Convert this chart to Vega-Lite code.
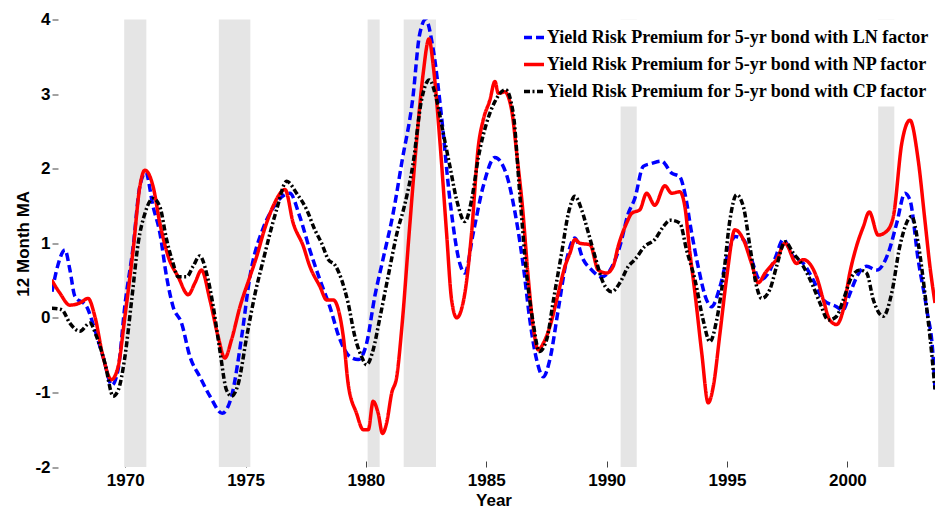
{
  "$schema": "https://vega.github.io/schema/vega-lite/v6.json",
  "width": 883,
  "height": 447.5,
  "autosize": {"type": "none"},
  "padding": {"left": 52, "top": 19.5, "right": 0, "bottom": 42},
  "background": "white",
  "config": {
    "view": {"stroke": null},
    "axis": {
      "domain": false,
      "grid": false,
      "tickColor": "#444444",
      "tickWidth": 1,
      "tickSize": -6,
      "labelFont": "Liberation Sans",
      "labelFontWeight": "bold",
      "labelFontSize": 17,
      "labelColor": "black",
      "titleFont": "Liberation Sans",
      "titleFontWeight": "bold",
      "titleFontSize": 17,
      "titleColor": "black"
    },
    "legend": {
      "orient": "top-right",
      "offset": 0,
      "title": null,
      "fillColor": "white",
      "padding": 6,
      "labelFont": "Liberation Serif",
      "labelFontWeight": "bold",
      "labelFontSize": 18,
      "labelColor": "black",
      "labelLimit": 600,
      "labelOffset": 1,
      "symbolType": "stroke",
      "symbolSize": 400,
      "symbolStrokeWidth": 3.5,
      "rowPadding": 6
    }
  },
  "datasets": {
    "recessions": [
      {"start": 1969.96, "end": 1970.88},
      {"start": 1973.89, "end": 1975.2},
      {"start": 1980.07, "end": 1980.57},
      {"start": 1981.57, "end": 1982.91},
      {"start": 1990.58, "end": 1991.25},
      {"start": 2001.28, "end": 2001.95}
    ],
    "premium": [
      {"series": "LN", "year": 1966.96, "value": 0.35},
      {"series": "LN", "year": 1967.2, "value": 0.7},
      {"series": "LN", "year": 1967.5, "value": 0.91},
      {"series": "LN", "year": 1967.7, "value": 0.65},
      {"series": "LN", "year": 1967.91, "value": 0.29},
      {"series": "LN", "year": 1968.4, "value": 0.15},
      {"series": "LN", "year": 1968.74, "value": -0.16},
      {"series": "LN", "year": 1969.08, "value": -0.52},
      {"series": "LN", "year": 1969.45, "value": -0.9},
      {"series": "LN", "year": 1969.7, "value": -0.7},
      {"series": "LN", "year": 1970.0, "value": 0.2},
      {"series": "LN", "year": 1970.33, "value": 0.95},
      {"series": "LN", "year": 1970.6, "value": 1.75},
      {"series": "LN", "year": 1970.85, "value": 1.95},
      {"series": "LN", "year": 1971.16, "value": 1.49},
      {"series": "LN", "year": 1971.44, "value": 1.14},
      {"series": "LN", "year": 1971.72, "value": 0.55},
      {"series": "LN", "year": 1971.99, "value": 0.15},
      {"series": "LN", "year": 1972.34, "value": -0.07},
      {"series": "LN", "year": 1972.69, "value": -0.52},
      {"series": "LN", "year": 1973.1, "value": -0.79},
      {"series": "LN", "year": 1973.52, "value": -1.05},
      {"series": "LN", "year": 1974.03, "value": -1.28},
      {"series": "LN", "year": 1974.42, "value": -1.05},
      {"series": "LN", "year": 1974.84, "value": -0.25},
      {"series": "LN", "year": 1975.18, "value": 0.55},
      {"series": "LN", "year": 1975.73, "value": 1.2},
      {"series": "LN", "year": 1976.1, "value": 1.45},
      {"series": "LN", "year": 1976.5, "value": 1.62},
      {"series": "LN", "year": 1976.84, "value": 1.67},
      {"series": "LN", "year": 1977.25, "value": 1.36},
      {"series": "LN", "year": 1977.67, "value": 0.91},
      {"series": "LN", "year": 1978.09, "value": 0.51},
      {"series": "LN", "year": 1978.5, "value": 0.15},
      {"series": "LN", "year": 1978.92, "value": -0.29},
      {"series": "LN", "year": 1979.33, "value": -0.52},
      {"series": "LN", "year": 1979.68, "value": -0.56},
      {"series": "LN", "year": 1980.03, "value": -0.34},
      {"series": "LN", "year": 1980.37, "value": 0.29},
      {"series": "LN", "year": 1980.72, "value": 0.8},
      {"series": "LN", "year": 1981.13, "value": 1.4},
      {"series": "LN", "year": 1981.5, "value": 2.1},
      {"series": "LN", "year": 1981.95, "value": 2.95},
      {"series": "LN", "year": 1982.22, "value": 3.78},
      {"series": "LN", "year": 1982.48, "value": 4.0},
      {"series": "LN", "year": 1982.8, "value": 3.59},
      {"series": "LN", "year": 1983.14, "value": 2.7},
      {"series": "LN", "year": 1983.49, "value": 1.58},
      {"series": "LN", "year": 1983.9, "value": 0.73},
      {"series": "LN", "year": 1984.11, "value": 0.6},
      {"series": "LN", "year": 1984.46, "value": 1.14},
      {"series": "LN", "year": 1984.87, "value": 1.76},
      {"series": "LN", "year": 1985.36, "value": 2.15},
      {"series": "LN", "year": 1985.84, "value": 1.92},
      {"series": "LN", "year": 1986.2, "value": 1.4},
      {"series": "LN", "year": 1986.54, "value": 0.69},
      {"series": "LN", "year": 1986.81, "value": -0.03},
      {"series": "LN", "year": 1987.09, "value": -0.56},
      {"series": "LN", "year": 1987.37, "value": -0.79},
      {"series": "LN", "year": 1987.64, "value": -0.56},
      {"series": "LN", "year": 1987.99, "value": 0.11},
      {"series": "LN", "year": 1988.34, "value": 0.78},
      {"series": "LN", "year": 1988.68, "value": 1.07},
      {"series": "LN", "year": 1989.03, "value": 0.78},
      {"series": "LN", "year": 1989.38, "value": 0.64},
      {"series": "LN", "year": 1989.79, "value": 0.55},
      {"series": "LN", "year": 1990.14, "value": 0.64},
      {"series": "LN", "year": 1990.55, "value": 0.96},
      {"series": "LN", "year": 1990.9, "value": 1.4},
      {"series": "LN", "year": 1991.17, "value": 1.6},
      {"series": "LN", "year": 1991.52, "value": 2.03},
      {"series": "LN", "year": 1991.87, "value": 2.07},
      {"series": "LN", "year": 1992.28, "value": 2.1},
      {"series": "LN", "year": 1992.7, "value": 1.94},
      {"series": "LN", "year": 1993.04, "value": 1.89},
      {"series": "LN", "year": 1993.25, "value": 1.67},
      {"series": "LN", "year": 1993.53, "value": 1.14},
      {"series": "LN", "year": 1993.8, "value": 0.69},
      {"series": "LN", "year": 1994.15, "value": 0.24},
      {"series": "LN", "year": 1994.36, "value": 0.15},
      {"series": "LN", "year": 1994.71, "value": 0.42},
      {"series": "LN", "year": 1995.05, "value": 0.87},
      {"series": "LN", "year": 1995.33, "value": 1.09},
      {"series": "LN", "year": 1995.68, "value": 1.05},
      {"series": "LN", "year": 1996.02, "value": 0.78},
      {"series": "LN", "year": 1996.37, "value": 0.51},
      {"series": "LN", "year": 1996.72, "value": 0.6},
      {"series": "LN", "year": 1997.0, "value": 0.8},
      {"series": "LN", "year": 1997.34, "value": 1.05},
      {"series": "LN", "year": 1997.75, "value": 0.82},
      {"series": "LN", "year": 1998.17, "value": 0.73},
      {"series": "LN", "year": 1998.58, "value": 0.51},
      {"series": "LN", "year": 1999.0, "value": 0.24},
      {"series": "LN", "year": 1999.55, "value": 0.15},
      {"series": "LN", "year": 1999.8, "value": 0.1},
      {"series": "LN", "year": 2000.11, "value": 0.33},
      {"series": "LN", "year": 2000.39, "value": 0.55},
      {"series": "LN", "year": 2000.8, "value": 0.69},
      {"series": "LN", "year": 2001.22, "value": 0.64},
      {"series": "LN", "year": 2001.7, "value": 0.87},
      {"series": "LN", "year": 2002.05, "value": 1.27},
      {"series": "LN", "year": 2002.39, "value": 1.67},
      {"series": "LN", "year": 2002.6, "value": 1.58},
      {"series": "LN", "year": 2002.94, "value": 0.78},
      {"series": "LN", "year": 2003.3, "value": 0.11},
      {"series": "LN", "year": 2003.57, "value": -0.56},
      {"series": "LN", "year": 2003.64, "value": -0.96},

      {"series": "NP", "year": 1966.94, "value": 0.51},
      {"series": "NP", "year": 1967.29, "value": 0.33},
      {"series": "NP", "year": 1967.7, "value": 0.17},
      {"series": "NP", "year": 1968.12, "value": 0.2},
      {"series": "NP", "year": 1968.46, "value": 0.26},
      {"series": "NP", "year": 1968.74, "value": 0.02},
      {"series": "NP", "year": 1969.08, "value": -0.52},
      {"series": "NP", "year": 1969.43, "value": -0.83},
      {"series": "NP", "year": 1969.71, "value": -0.65},
      {"series": "NP", "year": 1969.99, "value": 0.02},
      {"series": "NP", "year": 1970.33, "value": 0.91},
      {"series": "NP", "year": 1970.61, "value": 1.76},
      {"series": "NP", "year": 1970.82, "value": 1.98},
      {"series": "NP", "year": 1971.16, "value": 1.76},
      {"series": "NP", "year": 1971.44, "value": 1.27},
      {"series": "NP", "year": 1971.79, "value": 0.82},
      {"series": "NP", "year": 1972.2, "value": 0.55},
      {"series": "NP", "year": 1972.62, "value": 0.31},
      {"series": "NP", "year": 1972.9, "value": 0.47},
      {"series": "NP", "year": 1973.17, "value": 0.64},
      {"series": "NP", "year": 1973.52, "value": 0.24},
      {"series": "NP", "year": 1973.86, "value": -0.25},
      {"series": "NP", "year": 1974.14, "value": -0.54},
      {"series": "NP", "year": 1974.42, "value": -0.29},
      {"series": "NP", "year": 1974.77, "value": 0.15},
      {"series": "NP", "year": 1975.18, "value": 0.55},
      {"series": "NP", "year": 1975.46, "value": 0.82},
      {"series": "NP", "year": 1975.8, "value": 1.2},
      {"series": "NP", "year": 1976.15, "value": 1.5},
      {"series": "NP", "year": 1976.64, "value": 1.72},
      {"series": "NP", "year": 1976.98, "value": 1.27},
      {"series": "NP", "year": 1977.4, "value": 0.96},
      {"series": "NP", "year": 1977.67, "value": 0.69},
      {"series": "NP", "year": 1978.09, "value": 0.42},
      {"series": "NP", "year": 1978.37, "value": 0.24},
      {"series": "NP", "year": 1978.64, "value": 0.24},
      {"series": "NP", "year": 1979.06, "value": -0.25},
      {"series": "NP", "year": 1979.26, "value": -0.88},
      {"series": "NP", "year": 1979.61, "value": -1.28},
      {"series": "NP", "year": 1979.89, "value": -1.5},
      {"series": "NP", "year": 1980.1, "value": -1.5},
      {"series": "NP", "year": 1980.3, "value": -1.12},
      {"series": "NP", "year": 1980.51, "value": -1.28},
      {"series": "NP", "year": 1980.69, "value": -1.55},
      {"series": "NP", "year": 1980.86, "value": -1.41},
      {"series": "NP", "year": 1981.07, "value": -1.01},
      {"series": "NP", "year": 1981.28, "value": -0.79},
      {"series": "NP", "year": 1981.5, "value": -0.1},
      {"series": "NP", "year": 1981.8, "value": 1.15},
      {"series": "NP", "year": 1982.11, "value": 2.39},
      {"series": "NP", "year": 1982.38, "value": 3.28},
      {"series": "NP", "year": 1982.62, "value": 3.74},
      {"series": "NP", "year": 1982.8, "value": 3.37},
      {"series": "NP", "year": 1983.08, "value": 2.34},
      {"series": "NP", "year": 1983.35, "value": 1.14},
      {"series": "NP", "year": 1983.56, "value": 0.24},
      {"series": "NP", "year": 1983.77, "value": 0.0},
      {"series": "NP", "year": 1984.11, "value": 0.33},
      {"series": "NP", "year": 1984.39, "value": 1.14},
      {"series": "NP", "year": 1984.67, "value": 2.3},
      {"series": "NP", "year": 1984.87, "value": 2.65},
      {"series": "NP", "year": 1985.15, "value": 2.92},
      {"series": "NP", "year": 1985.36, "value": 3.17},
      {"series": "NP", "year": 1985.5, "value": 3.01},
      {"series": "NP", "year": 1985.77, "value": 3.03},
      {"series": "NP", "year": 1986.05, "value": 2.79},
      {"series": "NP", "year": 1986.3, "value": 2.1},
      {"series": "NP", "year": 1986.5, "value": 1.5},
      {"series": "NP", "year": 1986.74, "value": 0.55},
      {"series": "NP", "year": 1986.95, "value": -0.12},
      {"series": "NP", "year": 1987.16, "value": -0.43},
      {"series": "NP", "year": 1987.37, "value": -0.34},
      {"series": "NP", "year": 1987.64, "value": -0.12},
      {"series": "NP", "year": 1987.99, "value": 0.33},
      {"series": "NP", "year": 1988.27, "value": 0.69},
      {"series": "NP", "year": 1988.48, "value": 0.87},
      {"series": "NP", "year": 1988.68, "value": 1.05},
      {"series": "NP", "year": 1988.89, "value": 1.0},
      {"series": "NP", "year": 1989.31, "value": 0.98},
      {"series": "NP", "year": 1989.65, "value": 0.64},
      {"series": "NP", "year": 1990.0, "value": 0.6},
      {"series": "NP", "year": 1990.27, "value": 0.69},
      {"series": "NP", "year": 1990.48, "value": 0.96},
      {"series": "NP", "year": 1990.83, "value": 1.27},
      {"series": "NP", "year": 1991.04, "value": 1.4},
      {"series": "NP", "year": 1991.38, "value": 1.45},
      {"series": "NP", "year": 1991.66, "value": 1.67},
      {"series": "NP", "year": 1992.0, "value": 1.51},
      {"series": "NP", "year": 1992.42, "value": 1.77},
      {"series": "NP", "year": 1992.7, "value": 1.67},
      {"series": "NP", "year": 1993.04, "value": 1.69},
      {"series": "NP", "year": 1993.25, "value": 1.49},
      {"series": "NP", "year": 1993.46, "value": 0.87},
      {"series": "NP", "year": 1993.67, "value": 0.33},
      {"series": "NP", "year": 1993.95, "value": -0.47},
      {"series": "NP", "year": 1994.22, "value": -1.14},
      {"series": "NP", "year": 1994.43, "value": -0.92},
      {"series": "NP", "year": 1994.71, "value": -0.2},
      {"series": "NP", "year": 1994.99, "value": 0.55},
      {"series": "NP", "year": 1995.33, "value": 1.18},
      {"series": "NP", "year": 1995.68, "value": 1.05},
      {"series": "NP", "year": 1996.02, "value": 0.73},
      {"series": "NP", "year": 1996.3, "value": 0.47},
      {"series": "NP", "year": 1996.58, "value": 0.6},
      {"series": "NP", "year": 1996.86, "value": 0.71},
      {"series": "NP", "year": 1997.06, "value": 0.78},
      {"series": "NP", "year": 1997.41, "value": 1.0},
      {"series": "NP", "year": 1997.89, "value": 0.73},
      {"series": "NP", "year": 1998.17, "value": 0.78},
      {"series": "NP", "year": 1998.72, "value": 0.55},
      {"series": "NP", "year": 1999.0, "value": 0.24},
      {"series": "NP", "year": 1999.27, "value": -0.03},
      {"series": "NP", "year": 1999.55, "value": -0.09},
      {"series": "NP", "year": 1999.83, "value": 0.11},
      {"series": "NP", "year": 2000.1, "value": 0.6},
      {"series": "NP", "year": 2000.38, "value": 0.96},
      {"series": "NP", "year": 2000.66, "value": 1.22},
      {"series": "NP", "year": 2000.91, "value": 1.42},
      {"series": "NP", "year": 2001.28, "value": 1.11},
      {"series": "NP", "year": 2001.63, "value": 1.16},
      {"series": "NP", "year": 2001.91, "value": 1.36},
      {"series": "NP", "year": 2002.26, "value": 2.34},
      {"series": "NP", "year": 2002.6, "value": 2.65},
      {"series": "NP", "year": 2002.94, "value": 2.12},
      {"series": "NP", "year": 2003.22, "value": 1.31},
      {"series": "NP", "year": 2003.43, "value": 0.69},
      {"series": "NP", "year": 2003.64, "value": 0.2},

      {"series": "CP", "year": 1966.94, "value": 0.13},
      {"series": "CP", "year": 1967.36, "value": 0.11},
      {"series": "CP", "year": 1967.7, "value": -0.07},
      {"series": "CP", "year": 1968.12, "value": -0.18},
      {"series": "CP", "year": 1968.53, "value": -0.07},
      {"series": "CP", "year": 1968.81, "value": -0.25},
      {"series": "CP", "year": 1969.16, "value": -0.61},
      {"series": "CP", "year": 1969.5, "value": -1.05},
      {"series": "CP", "year": 1969.71, "value": -0.97},
      {"series": "CP", "year": 1969.99, "value": -0.52},
      {"series": "CP", "year": 1970.27, "value": 0.24},
      {"series": "CP", "year": 1970.54, "value": 1.0},
      {"series": "CP", "year": 1970.82, "value": 1.4},
      {"series": "CP", "year": 1971.16, "value": 1.6},
      {"series": "CP", "year": 1971.44, "value": 1.49},
      {"series": "CP", "year": 1971.72, "value": 1.05},
      {"series": "CP", "year": 1971.99, "value": 0.73},
      {"series": "CP", "year": 1972.2, "value": 0.55},
      {"series": "CP", "year": 1972.55, "value": 0.55},
      {"series": "CP", "year": 1972.82, "value": 0.69},
      {"series": "CP", "year": 1973.1, "value": 0.83},
      {"series": "CP", "year": 1973.38, "value": 0.6},
      {"series": "CP", "year": 1973.66, "value": 0.15},
      {"series": "CP", "year": 1973.93, "value": -0.43},
      {"series": "CP", "year": 1974.21, "value": -0.97},
      {"series": "CP", "year": 1974.42, "value": -1.05},
      {"series": "CP", "year": 1974.7, "value": -0.88},
      {"series": "CP", "year": 1975.05, "value": -0.25},
      {"series": "CP", "year": 1975.4, "value": 0.33},
      {"series": "CP", "year": 1975.74, "value": 0.78},
      {"series": "CP", "year": 1976.29, "value": 1.45},
      {"series": "CP", "year": 1976.71, "value": 1.83},
      {"series": "CP", "year": 1977.12, "value": 1.67},
      {"series": "CP", "year": 1977.54, "value": 1.45},
      {"series": "CP", "year": 1977.88, "value": 1.18},
      {"series": "CP", "year": 1978.16, "value": 1.0},
      {"series": "CP", "year": 1978.44, "value": 0.78},
      {"series": "CP", "year": 1978.71, "value": 0.71},
      {"series": "CP", "year": 1978.99, "value": 0.51},
      {"series": "CP", "year": 1979.26, "value": 0.2},
      {"series": "CP", "year": 1979.54, "value": -0.25},
      {"series": "CP", "year": 1979.82, "value": -0.52},
      {"series": "CP", "year": 1980.03, "value": -0.63},
      {"series": "CP", "year": 1980.3, "value": -0.43},
      {"series": "CP", "year": 1980.58, "value": 0.0},
      {"series": "CP", "year": 1980.95, "value": 0.6},
      {"series": "CP", "year": 1981.3, "value": 1.15},
      {"series": "CP", "year": 1981.6, "value": 1.5},
      {"series": "CP", "year": 1981.95, "value": 2.05},
      {"series": "CP", "year": 1982.31, "value": 2.92},
      {"series": "CP", "year": 1982.63, "value": 3.19},
      {"series": "CP", "year": 1982.94, "value": 2.92},
      {"series": "CP", "year": 1983.21, "value": 2.48},
      {"series": "CP", "year": 1983.49, "value": 2.03},
      {"series": "CP", "year": 1983.77, "value": 1.58},
      {"series": "CP", "year": 1984.11, "value": 1.29},
      {"series": "CP", "year": 1984.39, "value": 1.58},
      {"series": "CP", "year": 1984.67, "value": 2.15},
      {"series": "CP", "year": 1985.01, "value": 2.61},
      {"series": "CP", "year": 1985.36, "value": 2.9},
      {"series": "CP", "year": 1985.8, "value": 3.06},
      {"series": "CP", "year": 1986.12, "value": 2.74},
      {"series": "CP", "year": 1986.39, "value": 1.67},
      {"series": "CP", "year": 1986.67, "value": 0.6},
      {"series": "CP", "year": 1986.95, "value": -0.07},
      {"series": "CP", "year": 1987.2, "value": -0.45},
      {"series": "CP", "year": 1987.51, "value": -0.29},
      {"series": "CP", "year": 1987.79, "value": 0.24},
      {"series": "CP", "year": 1988.13, "value": 0.87},
      {"series": "CP", "year": 1988.41, "value": 1.4},
      {"series": "CP", "year": 1988.68, "value": 1.63},
      {"series": "CP", "year": 1988.96, "value": 1.45},
      {"series": "CP", "year": 1989.24, "value": 1.14},
      {"series": "CP", "year": 1989.52, "value": 0.82},
      {"series": "CP", "year": 1989.86, "value": 0.47},
      {"series": "CP", "year": 1990.21, "value": 0.35},
      {"series": "CP", "year": 1990.55, "value": 0.47},
      {"series": "CP", "year": 1990.9, "value": 0.69},
      {"series": "CP", "year": 1991.17, "value": 0.78},
      {"series": "CP", "year": 1991.59, "value": 0.96},
      {"series": "CP", "year": 1992.0, "value": 1.05},
      {"series": "CP", "year": 1992.35, "value": 1.22},
      {"series": "CP", "year": 1992.63, "value": 1.31},
      {"series": "CP", "year": 1993.04, "value": 1.27},
      {"series": "CP", "year": 1993.32, "value": 0.91},
      {"series": "CP", "year": 1993.67, "value": 0.51},
      {"series": "CP", "year": 1994.01, "value": -0.03},
      {"series": "CP", "year": 1994.29, "value": -0.32},
      {"series": "CP", "year": 1994.57, "value": -0.03},
      {"series": "CP", "year": 1994.85, "value": 0.55},
      {"series": "CP", "year": 1995.12, "value": 1.31},
      {"series": "CP", "year": 1995.4, "value": 1.65},
      {"series": "CP", "year": 1995.68, "value": 1.49},
      {"series": "CP", "year": 1995.95, "value": 0.96},
      {"series": "CP", "year": 1996.23, "value": 0.42},
      {"series": "CP", "year": 1996.44, "value": 0.26},
      {"series": "CP", "year": 1996.78, "value": 0.38},
      {"series": "CP", "year": 1997.06, "value": 0.69},
      {"series": "CP", "year": 1997.41, "value": 1.02},
      {"series": "CP", "year": 1997.75, "value": 0.87},
      {"series": "CP", "year": 1998.17, "value": 0.69},
      {"series": "CP", "year": 1998.58, "value": 0.42},
      {"series": "CP", "year": 1998.86, "value": 0.2},
      {"series": "CP", "year": 1999.21, "value": -0.03},
      {"series": "CP", "year": 1999.55, "value": 0.02},
      {"series": "CP", "year": 1999.83, "value": 0.24},
      {"series": "CP", "year": 2000.18, "value": 0.55},
      {"series": "CP", "year": 2000.52, "value": 0.64},
      {"series": "CP", "year": 2000.8, "value": 0.6},
      {"series": "CP", "year": 2001.08, "value": 0.24},
      {"series": "CP", "year": 2001.49, "value": 0.02},
      {"series": "CP", "year": 2001.84, "value": 0.33},
      {"series": "CP", "year": 2002.18, "value": 0.96},
      {"series": "CP", "year": 2002.67, "value": 1.36},
      {"series": "CP", "year": 2002.94, "value": 1.0},
      {"series": "CP", "year": 2003.22, "value": 0.33},
      {"series": "CP", "year": 2003.5, "value": -0.47},
      {"series": "CP", "year": 2003.64, "value": -0.96}
    ]
  },
  "layer": [
    {
      "data": {"name": "recessions"},
      "mark": {"type": "rect", "color": "#e5e5e5"},
      "encoding": {
        "x": {
          "field": "start",
          "type": "quantitative",
          "title": "Year",
          "scale": {"domain": [1966.96, 2003.64], "nice": false, "zero": false},
          "axis": {"values": [1970, 1975, 1980, 1985, 1990, 1995, 2000], "format": "d", "labelPadding": 11, "titlePadding": 4}
        },
        "x2": {"field": "end"}
      }
    },
    {
      "data": {"name": "premium"},
      "mark": {"type": "line", "strokeWidth": 3.5, "clip": true, "interpolate": "monotone"},
      "encoding": {
        "x": {
          "field": "year",
          "type": "quantitative",
          "title": "Year",
          "scale": {"domain": [1966.96, 2003.64], "nice": false, "zero": false}
        },
        "y": {
          "field": "value",
          "type": "quantitative",
          "title": "12 Month MA",
          "scale": {"domain": [-2, 4], "nice": false, "zero": false},
          "axis": {
            "values": [-2, -1, 0, 1, 2, 3, 4],
            "labelExpr": "datum.value < 0 ? '-' + abs(datum.value) : '' + datum.value",
            "labelPadding": 8,
            "titlePadding": 2
          }
        },
        "color": {
          "field": "series",
          "type": "nominal",
          "sort": ["LN", "NP", "CP"],
          "scale": {"domain": ["LN", "NP", "CP"], "range": ["#0000ff", "#ff0000", "#000000"]},
          "legend": {"labelExpr": "'Yield Risk Premium for 5-yr bond with ' + datum.label + ' factor'"}
        },
        "strokeDash": {
          "field": "series",
          "type": "nominal",
          "sort": ["LN", "NP", "CP"],
          "scale": {"domain": ["LN", "NP", "CP"], "range": [[8, 4], [1, 0], [6, 2.5, 2, 2.5]]},
          "legend": {"labelExpr": "'Yield Risk Premium for 5-yr bond with ' + datum.label + ' factor'"}
        }
      }
    }
  ]
}
